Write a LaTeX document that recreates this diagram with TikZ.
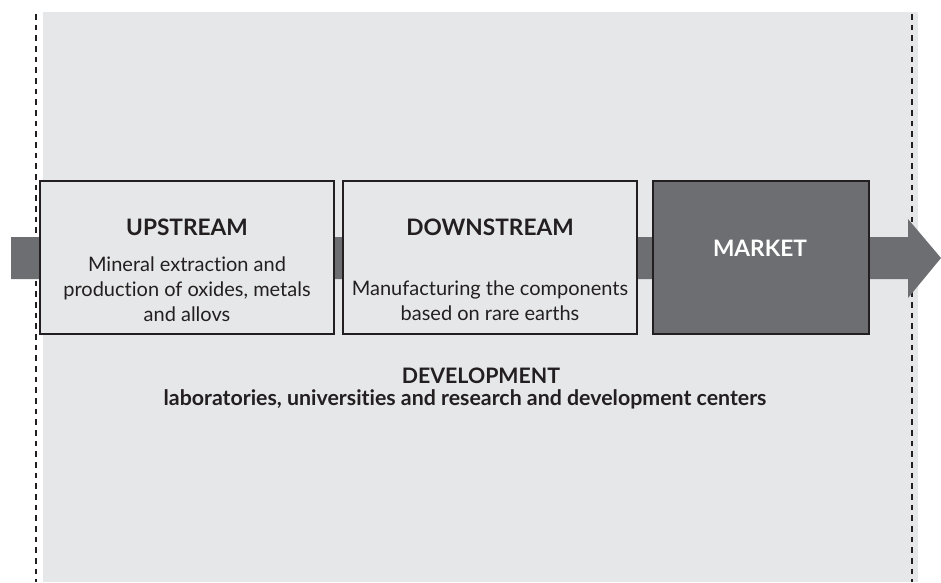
\documentclass[tikz,border=0pt]{standalone}
\usepackage{fontspec}
\setmainfont{Lato}[Ligatures=NoCommon]
\definecolor{bggray}{HTML}{E6E7E8}
\definecolor{flowgray}{HTML}{6D6E71}
\definecolor{inkblack}{HTML}{231F20}
\tikzset{
	stage/.style={draw=inkblack, line width=1.1pt, fill=bggray, minimum height=114.75pt, inner sep=0pt},
	head/.style={text=inkblack, font=\fontsize{17}{20}\selectfont\bfseries, inner sep=0pt},
	body/.style={text=inkblack, font=\fontsize{15}{18.75}\selectfont, align=center, inner sep=0pt},
	devline/.style={text=inkblack, font=\fontsize{16}{18}\selectfont\bfseries, inner sep=0pt, anchor=base},
	sideline/.style={draw=inkblack, line width=2.2pt, dash pattern=on 4.2pt off 3.8pt}
}

\begin{document}
\begin{tikzpicture}[x=0.75pt, y=-0.75pt]
		\useasboundingbox (0,0) rectangle (941,582);
		\fill[bggray] (43,12) rectangle (918,582);
		\draw[sideline] (36,14) -- (36,582);
		\draw[sideline] (912,14) -- (912,582);
		\coordinate (flowtip) at (941,258);
		\fill[flowgray] (11,237) -- (908,237) -- (908,219) -- (flowtip) -- (908,298) -- (908,279) -- (11,279) -- cycle;
		\node[stage, minimum width=220.5pt] (up) at (187,257.5){};
		\node[stage, minimum width=220.5pt] (down) at (490,257.5){};
		\node[stage, minimum width=162pt, fill=flowgray] (market) at (761,257.5){};
		\node[head] (uphead) at (187,227){UPSTREAM};
		\node[body] (uptext) at (187,289){Mineral extraction and\\production of oxides, metals\\and allovs};
		\node[head] (downhead) at (490,227){DOWNSTREAM};
		\node[body] (downtext) at (490,301){Manufacturing the components\\based on rare earths};
		\node[head, text=white] (markethead) at (760,248){MARKET};
		\node[devline] (devhead) at (481,383){DEVELOPMENT};
		\node[devline] (devtext) at (465,405){laboratories, universities and research and development centers};
	\end{tikzpicture}
\end{document}
